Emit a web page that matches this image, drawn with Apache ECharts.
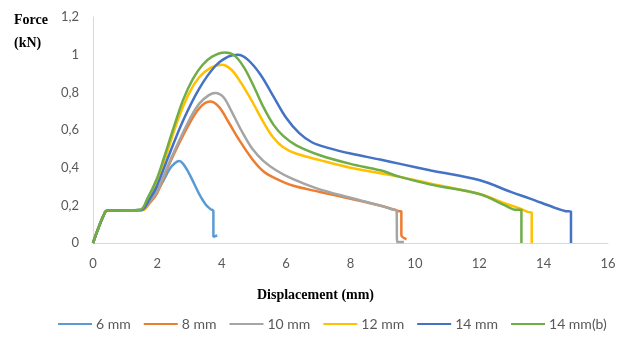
<!DOCTYPE html>
<html>
<head>
<meta charset="utf-8">
<script src="https://cdn.jsdelivr.net/npm/echarts@6/dist/echarts.min.js"></script>
<style>
html,body{margin:0;padding:0;background:#fff;}
#chart{width:632px;height:344px;}
</style>
</head>
<body>
<div id="chart"></div>
<script>
const seriesNames = ['6 mm', '8 mm', '10 mm', '12 mm', '14 mm', '14 mm(b)'];
const seriesColors = ['#5B9BD5', '#ED7D31', '#A5A5A5', '#FFC000', '#4472C4', '#70AD47'];
const xTicks = [0, 2, 4, 6, 8, 10, 12, 14, 16];
const yTicks = [0, 0.2, 0.4, 0.6, 0.8, 1.0, 1.2];

const data6mm = [[0,0],[0.38,0.165],[0.5,0.172],[1.5,0.175],[1.7,0.22],[1.85,0.255],[2.08,0.30],[2.39,0.395],[2.55,0.425],[2.68,0.435],[2.8,0.42],[2.95,0.38],[3.1,0.33],[3.3,0.26],[3.5,0.205],[3.65,0.18],[3.74,0.17],[3.74,0.033],[3.86,0.04]];
const data8mm = [[0,0],[0.38,0.165],[0.5,0.172],[1.55,0.175],[1.75,0.21],[1.98,0.26],[2.4,0.43],[2.95,0.62],[3.3,0.715],[3.63,0.751],[3.9,0.725],[4.2,0.645],[4.55,0.545],[4.95,0.445],[5.3,0.38],[5.7,0.34],[6.2,0.305],[7.05,0.271],[8.0,0.235],[9.0,0.195],[9.4,0.175],[9.54,0.168],[9.58,0.168],[9.58,0.042],[9.74,0.02]];
const data10mm = [[0,0],[0.38,0.165],[0.5,0.172],[1.5,0.175],[1.75,0.22],[1.98,0.27],[2.4,0.44],[2.95,0.64],[3.3,0.74],[3.6,0.785],[3.8,0.797],[4.05,0.775],[4.3,0.70],[4.6,0.60],[4.95,0.50],[5.3,0.435],[5.7,0.385],[6.2,0.34],[6.95,0.29],[8.0,0.24],[9.0,0.195],[9.3,0.178],[9.43,0.175],[9.45,0.005],[9.66,0.005]];
const data12mm = [[0,0],[0.38,0.165],[0.5,0.172],[1.55,0.175],[1.75,0.24],[1.98,0.32],[2.3,0.48],[2.65,0.66],[3.0,0.80],[3.3,0.88],[3.65,0.93],[4.0,0.947],[4.3,0.92],[4.6,0.85],[4.95,0.75],[5.3,0.64],[5.6,0.56],[5.9,0.51],[6.3,0.475],[7.05,0.44],[8.0,0.40],[9.54,0.351],[10.5,0.315],[12.02,0.26],[12.8,0.21],[13.26,0.184],[13.5,0.165],[13.63,0.16],[13.63,0]];
const data14mm = [[0,0],[0.38,0.165],[0.5,0.172],[1.5,0.175],[1.75,0.23],[1.98,0.30],[2.3,0.44],[2.8,0.65],[3.3,0.82],[3.8,0.94],[4.2,0.99],[4.5,1.0],[4.8,0.975],[5.2,0.895],[5.6,0.78],[6.0,0.665],[6.4,0.585],[6.8,0.535],[7.3,0.505],[8.0,0.475],[8.92,0.443],[9.54,0.42],[10.5,0.385],[12.02,0.333],[13.0,0.27],[13.58,0.236],[14.3,0.19],[14.66,0.17],[14.85,0.166],[14.85,0]];
const data14mmb = [[0,0],[0.38,0.165],[0.5,0.172],[1.45,0.175],[1.7,0.24],[1.98,0.34],[2.2,0.45],[2.5,0.61],[2.8,0.76],[3.1,0.87],[3.4,0.945],[3.7,0.99],[4.1,1.012],[4.4,0.995],[4.7,0.93],[5.0,0.83],[5.3,0.72],[5.6,0.63],[5.9,0.57],[6.3,0.52],[7.05,0.466],[8.0,0.42],[8.92,0.386],[9.54,0.351],[10.5,0.31],[12.02,0.259],[12.8,0.2],[13.1,0.177],[13.31,0.175],[13.31,0]];

const allData = [data6mm, data8mm, data10mm, data12mm, data14mm, data14mmb];

const chart = echarts.init(document.getElementById('chart'));
const labelStyle = { color: '#595959', fontSize: 13, fontFamily: 'Lato, "Liberation Sans", sans-serif' };

chart.setOption({
  animation: false,
  backgroundColor: '#fff',
  grid: { left: 93, right: 24, top: 17, bottom: 101, containLabel: false },
  xAxis: {
    type: 'value', min: xTicks[0], max: xTicks[xTicks.length - 1], interval: 2,
    axisLine: { show: true, lineStyle: { color: '#D9D9D9', width: 1 } },
    axisTick: { show: false },
    splitLine: { show: false },
    axisLabel: Object.assign({ margin: 14 }, labelStyle)
  },
  yAxis: {
    type: 'value', min: yTicks[0], max: yTicks[yTicks.length - 1], interval: 0.2,
    axisLine: { show: true, lineStyle: { color: '#D9D9D9', width: 1 } },
    axisTick: { show: false },
    splitLine: { show: false },
    axisLabel: Object.assign({ margin: 14, formatter: v => String(Math.round(v * 10) / 10).replace('.', ',') }, labelStyle)
  },
  legend: {
    data: seriesNames,
    left: 53, top: 312,
    itemWidth: 34, itemHeight: 12, itemGap: 13,
    textStyle: { color: '#595959', fontSize: 14, fontFamily: 'Lato, "Liberation Sans", sans-serif', padding: [0, 0, 0, -1] },
    icon: 'path://M0,5 L34,5 L34,7 L0,7 Z'
  },
  graphic: [
    { type: 'text', left: 14, top: 13, style: { text: 'Force', font: 'bold 14px "Liberation Serif", serif', fill: '#000' } },
    { type: 'text', left: 14, top: 36, style: { text: '(kN)', font: 'bold 14px "Liberation Serif", serif', fill: '#000' } },
    { type: 'text', left: 257, top: 288, style: { text: 'Displacement (mm)', font: 'bold 14px "Liberation Serif", serif', fill: '#000' } }
  ],
  series: seriesNames.map((name, i) => ({
    name: name,
    type: 'line',
    data: allData[i],
    symbol: 'none',
    smooth: 0.35,
    color: seriesColors[i],
    lineStyle: { width: 2.5, color: seriesColors[i] }
  }))
});
</script>
</body>
</html>
